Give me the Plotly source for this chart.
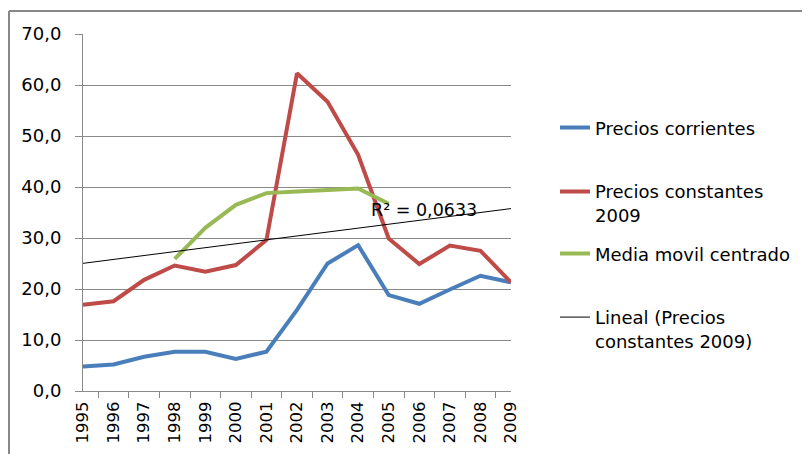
import numpy as np
import plotly.graph_objects as go


# -------------------------------------------------
# Data
# -------------------------------------------------

years = ["1995", "1996", "1997", "1998", "1999", "2000", "2001", "2002",
         "2003", "2004", "2005", "2006", "2007", "2008", "2009"]

precios_corrientes = [4.8, 5.2, 6.7, 7.7, 7.7, 6.3, 7.7, 15.9,
                      25.0, 28.6, 18.8, 17.1, 19.9, 22.6, 21.3]

precios_constantes = [16.9, 17.6, 21.8, 24.6, 23.4, 24.7, 29.6, 62.3,
                      56.7, 46.3, 29.9, 24.9, 28.5, 27.5, 21.3]

media_years = ["1998", "1999", "2000", "2001", "2002", "2003", "2004", "2005"]
media_movil = [25.9, 32.0, 36.5, 38.8, 39.1, 39.4, 39.7, 36.7]

r2_label = "R² = 0,0633"

y_ticks = [0, 10, 20, 30, 40, 50, 60, 70]


# -------------------------------------------------
# Linear trend (Excel style trendline on constant prices)
# -------------------------------------------------

idx = np.arange(len(years))
slope, intercept = np.polyfit(idx, precios_constantes, 1)
trend = list(intercept + slope * idx)


# -------------------------------------------------
# Figure
# -------------------------------------------------

FONT = "DejaVu Sans"
GRID = "#898989"

fig = go.Figure()

fig.add_trace(go.Scatter(
    x=years, y=precios_corrientes, mode="lines",
    name="Precios corrientes",
    line=dict(color="#4a7ebb", width=4),
    legend="legend"
))

fig.add_trace(go.Scatter(
    x=years, y=precios_constantes, mode="lines",
    name="Precios constantes<br>2009",
    line=dict(color="#be4b48", width=4),
    legend="legend2"
))

fig.add_trace(go.Scatter(
    x=media_years, y=media_movil, mode="lines",
    name="Media movil centrado",
    line=dict(color="#98b954", width=4),
    legend="legend3"
))

fig.add_trace(go.Scatter(
    x=years, y=trend, mode="lines",
    name="Lineal (Precios<br>constantes 2009)",
    line=dict(color="black", width=1),
    legend="legend4"
))


def legend_box(y):
    return dict(
        x=1.1028, xanchor="left",
        y=y, yanchor="middle",
        font=dict(family=FONT, size=18, color="black"),
        bgcolor="rgba(0,0,0,0)",
        valign="top",
        itemwidth=30
    )


# the page body adds an 8px offset, so margins are shifted to compensate
fig.update_layout(
    width=810,
    height=454,
    paper_bgcolor="white",
    plot_bgcolor="white",
    separators=",.",
    font=dict(family=FONT, size=18, color="black"),
    margin=dict(l=75, r=307, t=26, b=71, autoexpand=False),
    legend=legend_box(0.737),
    legend2=legend_box(0.526),
    legend3=legend_box(0.384),
    legend4=legend_box(0.174),
    showlegend=True
)

fig.update_yaxes(
    range=[0, 70],
    tickvals=y_ticks,
    tickformat=".1f",
    showgrid=True,
    gridcolor=GRID,
    gridwidth=1,
    zeroline=False,
    showline=True,
    linecolor=GRID,
    linewidth=1,
    ticks="outside",
    ticklen=7,
    tickcolor=GRID,
    ticklabelstandoff=10,
    automargin=False,
    tickfont=dict(family=FONT, size=18, color="black")
)

fig.update_xaxes(
    type="category",
    categoryorder="array",
    categoryarray=years,
    showgrid=False,
    showline=True,
    linecolor=GRID,
    linewidth=1,
    ticks="outside",
    tickson="boundaries",
    ticklen=6,
    tickcolor=GRID,
    tickangle=-90,
    ticklabelstandoff=3,
    automargin=False,
    tickfont=dict(family=FONT, size=16.5, color="black")
)

# R² label of the trendline
fig.add_annotation(
    x=0.668, y=0.507, xref="paper", yref="paper",
    xanchor="left", yanchor="middle",
    text=r2_label, showarrow=False,
    font=dict(family=FONT, size=17.5, color="black")
)

# chart frame (only top and left edges visible in the crop)
fig.add_shape(
    type="line", xref="paper", yref="paper",
    x0=-0.1729, y0=1.0644, x1=1.8, y1=1.0644,
    line=dict(color="#888888", width=2)
)
fig.add_shape(
    type="line", xref="paper", yref="paper",
    x0=-0.1729, y0=-0.3, x1=-0.1729, y1=1.0644,
    line=dict(color="#888888", width=2)
)

fig.write_html("out.html")
